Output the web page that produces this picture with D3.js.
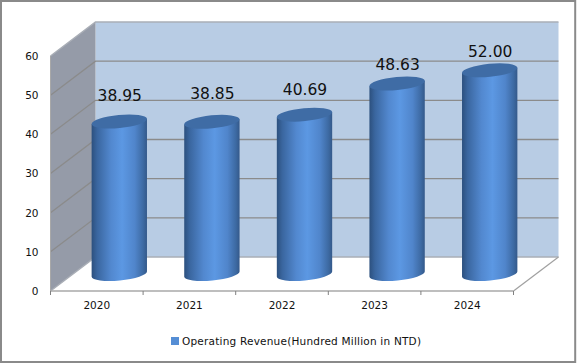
<!DOCTYPE html>
<html>
<head>
<meta charset="utf-8">
<script src="https://cdn.jsdelivr.net/npm/d3@7"></script>
<style>
    html, body { margin: 0; padding: 0; background: #fff; }
    svg { display: block; }
    text { font-family: "DejaVu Sans", sans-serif; fill: #111; }
</style>
</head>
<body>
<div id="chart"></div>
<script>
const categories = ["2020", "2021", "2022", "2023", "2024"];
const revenue = [38.95, 38.85, 40.69, 48.63, 52.00];
const value_labels = ["38.95", "38.85", "40.69", "48.63", "52.00"];
const y_ticks = [0, 10, 20, 30, 40, 50, 60];
const legend_label = "Operating Revenue(Hundred Million in NTD)";

var width = 577, height = 363;
var depth_x = 45, depth_y = -34;     // front to back wall shift
var cyl_rx = 27.8, cyl_ry = 6.5, tilt = -5.5;
// labels are not at a constant distance above the cylinders in the original
var label_gap = [20, 22.5, 20, 14, 13.5];

var svg = d3.select("#chart").append("svg")
    .attr("width", width)
    .attr("height", height);

var x = d3.scaleBand().domain(categories).range([50.5, 513.5]);
var y = d3.scaleLinear().domain([0, 60]).range([291, 56]);

var defs = svg.append("defs");
var grad = defs.append("linearGradient").attr("id", "cyl_side");
[[0, "#2c507e"], [0.1, "#3a669f"], [0.35, "#5288cf"], [0.55, "#5c98e3"], [0.78, "#5085cb"], [0.93, "#3d6aa3"], [1, "#34598a"]]
    .forEach(function(s) {
        grad.append("stop").attr("offset", s[0]).attr("stop-color", s[1]);
    });

// chart frame
svg.append("rect")
    .attr("x", 1).attr("y", 1)
    .attr("width", width - 2.8).attr("height", height - 2)
    .attr("fill", "#fff")
    .attr("stroke", "#8a8a8a")
    .attr("stroke-width", 2);

var y0 = y(0), y60 = y(60), x0 = x.range()[0], x1 = x.range()[1];

// back wall
svg.append("polygon")
    .attr("points", [[x0 + depth_x, y60 + depth_y], [x1 + depth_x, y60 + depth_y], [x1 + depth_x, y0 + depth_y], [x0 + depth_x, y0 + depth_y]].join(" "))
    .attr("fill", "#b8cce4");

// side wall
svg.append("polygon")
    .attr("points", [[x0, y60], [x0 + depth_x, y60 + depth_y], [x0 + depth_x, y0 + depth_y], [x0, y0]].join(" "))
    .attr("fill", "#959ba8");

// grid lines go along the side wall and then the back wall
y_ticks.forEach(function(t) {
    var is_edge = t == 0 || t == 60;
    svg.append("polyline")
        .attr("points", [[x0, y(t)], [x0 + depth_x, y(t) + depth_y], [x1 + depth_x, y(t) + depth_y]].join(" "))
        .attr("fill", "none")
        .attr("stroke", is_edge ? "#a9aeb6" : "#8b8b8b")
        .attr("stroke-width", is_edge ? 1.5 : 1.3);
});

// floor edges
svg.append("line")
    .attr("x1", x1).attr("y1", y0)
    .attr("x2", x1 + depth_x).attr("y2", y0 + depth_y)
    .attr("stroke", "#a0a0a0")
    .attr("stroke-width", 1.2);
svg.append("line")
    .attr("x1", x0).attr("y1", y60)
    .attr("x2", x0).attr("y2", y0)
    .attr("stroke", "#a8a8a8");
svg.append("line")
    .attr("x1", x0).attr("y1", y0)
    .attr("x2", x1).attr("y2", y0)
    .attr("stroke", "#a8a8a8")
    .attr("stroke-width", 1.6);

// ticks sit between the categories
d3.range(categories.length + 1).forEach(function(i) {
    var tx = x0 + i * x.step();
    svg.append("line")
        .attr("x1", tx).attr("y1", y0)
        .attr("x2", tx).attr("y2", y0 + 4)
        .attr("stroke", "#808080");
});

// axes, only the labels
var y_axis = svg.append("g")
    .attr("transform", "translate(" + x0 + ",0)")
    .call(d3.axisLeft(y).tickValues(y_ticks).tickSize(0).tickPadding(12));
var x_axis = svg.append("g")
    .attr("transform", "translate(0," + y0 + ")")
    .call(d3.axisBottom(x).tickSize(0).tickPadding(11));
y_axis.select(".domain").remove();
x_axis.select(".domain").remove();
y_axis.selectAll("text").style("font-size", "10.5px");
x_axis.selectAll("text").style("font-size", "10.5px");

function cyl_cx(d, i) { return x(categories[i]) + x.bandwidth() / 2 + depth_x / 2; }
function cyl_cy(v) { return y(v) + depth_y / 2; }

// body outline: two sides and the rounded bottom
function cyl_path(d, i) {
    var cx = cyl_cx(d, i);
    var ex = cyl_rx * Math.cos(tilt * Math.PI / 180);
    var ey = cyl_rx * Math.sin(tilt * Math.PI / 180);
    var top = cyl_cy(d), bot = cyl_cy(0);
    return "M" + (cx - ex) + "," + (top - ey)
        + "L" + (cx - ex) + "," + (bot - ey)
        + "A" + cyl_rx + "," + cyl_ry + " " + tilt + " 0 0 " + (cx + ex) + "," + (bot + ey)
        + "L" + (cx + ex) + "," + (top + ey)
        + "Z";
}

var cylinders = svg.append("g")
    .selectAll("g")
    .data(revenue)
    .enter().append("g");

cylinders.append("path")
    .attr("d", cyl_path)
    .attr("fill", "url(#cyl_side)");

cylinders.append("ellipse")
    .attr("rx", cyl_rx)
    .attr("ry", cyl_ry)
    .attr("transform", function(d, i) {
        return "translate(" + cyl_cx(d, i) + "," + cyl_cy(d) + ") rotate(" + tilt + ")";
    })
    .attr("fill", "#3f6ca5");

// value labels
svg.append("g")
    .selectAll("text")
    .data(revenue)
    .enter().append("text")
    .attr("x", function(d, i) { return cyl_cx(d, i) + 0.5; })
    .attr("y", function(d, i) { return cyl_cy(d) - label_gap[i]; })
    .attr("text-anchor", "middle")
    .style("font-size", "15.5px")
    .text(function(d, i) { return value_labels[i]; });

// legend
svg.append("rect")
    .attr("x", 171).attr("y", 337)
    .attr("width", 8).attr("height", 8)
    .attr("fill", "#558ed5");
svg.append("text")
    .attr("x", 182).attr("y", 345)
    .attr("textLength", 239)
    .style("font-size", "10.5px")
    .text(legend_label);
</script>
</body>
</html>
